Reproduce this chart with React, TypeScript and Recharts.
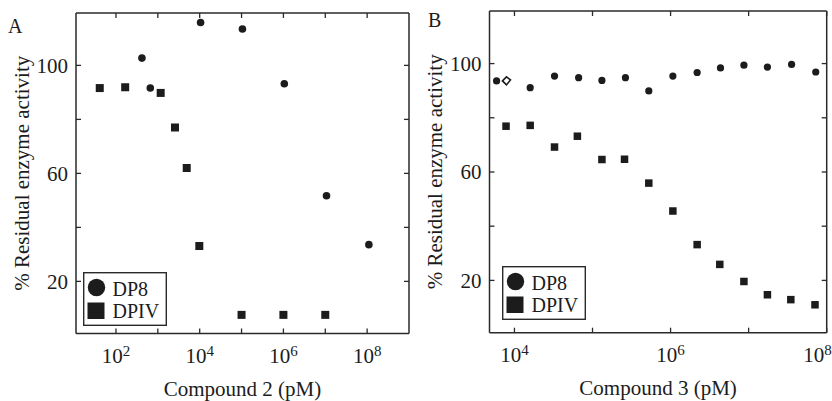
import React from 'react';
import { ScatterChart, Scatter, XAxis, YAxis, Legend } from 'recharts';

const FONT = '"Liberation Serif", "Times New Roman", serif';
const INK = '#1c1c1c';
const AXIS = '#2a2a2a';

// Panel A - compound 2 (pM) vs % residual activity
const dpivConcA = [41, 166, 1170, 2570, 4900, 9800, 1e5, 1e6, 1e7];
const dpivActA = [91.6, 91.9, 89.8, 77.0, 62.0, 33.1, 7.6, 7.6, 7.6];
const dp8ConcA = [417, 660, 1.05e4, 1.05e5, 1.05e6, 1.07e7, 1.1e8];
const dp8ActA = [102.7, 91.6, 115.9, 113.5, 93.2, 51.7, 33.6];

// Panel B - compound 3 (pM)
const dp8ConcB = [5900, 15900, 32600, 66400, 1.32e5, 2.64e5, 5.26e5, 1.07e6, 2.19e6, 4.36e6, 8.7e6, 1.74e7, 3.55e7, 7.24e7];
const dp8ActB = [93.6, 91.1, 95.4, 94.8, 93.8, 94.8, 89.9, 95.4, 96.7, 98.4, 99.4, 98.7, 99.7, 96.9];
const dp8OpenConcB = [7900];
const dp8OpenActB = [93.6];
const dpivConcB = [7800, 15900, 32600, 64000, 1.32e5, 2.57e5, 5.26e5, 1.07e6, 2.19e6, 4.27e6, 8.7e6, 1.74e7, 3.47e7, 7.08e7];
const dpivActB = [76.9, 77.2, 69.2, 73.2, 64.6, 64.7, 55.9, 45.6, 33.2, 25.9, 19.6, 14.7, 12.9, 11.0];

// axes
const xTicksA = [1e2, 1e3, 1e4, 1e5, 1e6, 1e7, 1e8];
const xTicksB = [1e4, 1e5, 1e6, 1e7, 1e8];
const yTicks = [20, 40, 60, 80, 100];
const yLabelled = [20, 60, 100];
const legendNames = ['DP8', 'DPIV'];

const pts = (xs: number[], ys: number[]) => xs.map((x, i) => ({ x, y: ys[i] }));

const square = (size: number) => (p: any) => (
  <rect x={p.cx - size / 2} y={p.cy - size / 2} width={size} height={size} fill={INK} />
);
const dot = (r: number) => (p: any) => <circle cx={p.cx} cy={p.cy} r={r} fill={INK} />;
const openDot = (p: any) => (
  <path
    d={`M${p.cx - 4},${p.cy} L${p.cx},${p.cy - 4} L${p.cx + 4},${p.cy - 1} L${p.cx},${p.cy + 4} Z`}
    fill="#fff"
    stroke={INK}
    strokeWidth={1.6}
  />
);
const none = () => <g />;

const BottomTick = (props: any) => {
  const { x, y, payload, lastAnchorEnd, lastValue } = props;
  const exp = Math.round(Math.log10(payload.value));
  const isLast = lastAnchorEnd && payload.value === lastValue;
  return (
    <g>
      <line x1={x} x2={x} y1={y} y2={y - 5} stroke={AXIS} strokeWidth={1.3} />
      {exp % 2 === 0 && (
        <text
          x={isLast ? x + 5 : x}
          y={y + 29}
          textAnchor={isLast ? 'end' : 'middle'}
          fontFamily={FONT}
          fontSize={21}
          fill={INK}
        >
          10
          <tspan dy={-7} fontSize={15}>{exp}</tspan>
        </text>
      )}
    </g>
  );
};

const TopTick = (props: any) => (
  <line x1={props.x} x2={props.x} y1={props.y} y2={props.y + 5} stroke={AXIS} strokeWidth={1.3} />
);

const LeftTick = (props: any) => {
  const { x, y, payload } = props;
  return (
    <g>
      <line x1={x} x2={x + 5} y1={y} y2={y} stroke={AXIS} strokeWidth={1.3} />
      {yLabelled.includes(payload.value) && (
        <text x={x - 8} y={y} dy="0.34em" textAnchor="end" fontFamily={FONT} fontSize={21} fill={INK}>
          {payload.value}
        </text>
      )}
    </g>
  );
};

const RightTick = (props: any) => (
  <line x1={props.x} x2={props.x - 5} y1={props.y} y2={props.y} stroke={AXIS} strokeWidth={1.3} />
);

const YTitle = (props: any) => {
  const vb = props.viewBox;
  const x = vb.x + vb.width - 54;
  const y = vb.y + vb.height / 2;
  return (
    <text
      x={x}
      y={y}
      transform={`rotate(-90, ${x}, ${y})`}
      textAnchor="middle"
      dominantBaseline="central"
      fontFamily={FONT}
      fontSize={21}
      fill={INK}
    >
      % Residual enzyme activity
    </text>
  );
};

const xTitle = (text: string) => (props: any) => {
  const vb = props.viewBox;
  return (
    <text x={vb.x + vb.width / 2} y={vb.y + 62} textAnchor="middle" fontFamily={FONT} fontSize={21} fill={INK}>
      {text}
    </text>
  );
};

const LegendBox = () => (
  <svg width={84} height={54} style={{ display: 'block' }}>
    <rect x={0.7} y={0.7} width={82.6} height={52.6} fill="#fff" stroke={AXIS} strokeWidth={1.4} />
    <circle cx={13.5} cy={15.5} r={8.7} fill={INK} />
    <rect x={4.5} y={30.5} width={17} height={16.5} fill={INK} />
    <text x={29.5} y={23.6} fontFamily={FONT} fontSize={20} fill={INK}>{legendNames[0]}</text>
    <text x={29.5} y={46.4} fontFamily={FONT} fontSize={20} fill={INK}>{legendNames[1]}</text>
  </svg>
);

type PanelProps = {
  left: number;
  plot: { top: number; right: number; bottom: number; left: number };
  xDomain: [number, number];
  xTicks: number[];
  lastAnchorEnd?: boolean;
  title: string;
  legendPos: { left: number; top: number };
  children: React.ReactNode;
  hidden: { x: number; y: number }[];
};

function Panel({ left, plot, xDomain, xTicks, lastAnchorEnd, title, legendPos, children, hidden }: PanelProps) {
  // axes are 1px thick so that recharts renders them; margins compensate
  const margin = { top: plot.top - 1, right: plot.right - 1, bottom: plot.bottom - 1, left: plot.left - 1 };
  return (
    <div style={{ position: 'absolute', left, top: 0, width: 416, height: 401 }}>
      <ScatterChart width={416} height={401} margin={margin}>
        <XAxis
          xAxisId="b"
          type="number"
          dataKey="x"
          scale="log"
          domain={xDomain}
          allowDataOverflow
          ticks={xTicks}
          interval={0}
          height={1}
          tickSize={0}
          tickMargin={0}
          tickLine={false}
          axisLine={{ stroke: AXIS, strokeWidth: 1.5 }}
          tick={<BottomTick lastAnchorEnd={lastAnchorEnd} lastValue={xTicks[xTicks.length - 1]} />}
          label={xTitle(title)}
        />
        <XAxis
          xAxisId="t"
          orientation="top"
          type="number"
          dataKey="x"
          scale="log"
          domain={xDomain}
          allowDataOverflow
          ticks={xTicks}
          interval={0}
          height={1}
          tickSize={0}
          tickMargin={0}
          tickLine={false}
          axisLine={{ stroke: AXIS, strokeWidth: 1.5 }}
          tick={<TopTick />}
        />
        <YAxis
          yAxisId="l"
          type="number"
          dataKey="y"
          domain={[0.7, 119.4]}
          allowDataOverflow
          ticks={yTicks}
          interval={0}
          width={1}
          tickSize={0}
          tickMargin={0}
          tickLine={false}
          axisLine={{ stroke: AXIS, strokeWidth: 1.5 }}
          tick={<LeftTick />}
          label={YTitle}
        />
        <YAxis
          yAxisId="r"
          orientation="right"
          type="number"
          dataKey="y"
          domain={[0.7, 119.4]}
          allowDataOverflow
          ticks={yTicks}
          interval={0}
          width={1}
          tickSize={0}
          tickMargin={0}
          tickLine={false}
          axisLine={{ stroke: AXIS, strokeWidth: 1.5 }}
          tick={<RightTick />}
        />
        <Scatter
          xAxisId="t"
          yAxisId="r"
          data={hidden}
          shape={none}
          legendType="none"
          isAnimationActive={false}
        />
        {children}
        <Legend
          layout="horizontal"
          verticalAlign="middle"
          align="center"
          content={<LegendBox />}
          wrapperStyle={{ left: legendPos.left, top: legendPos.top, width: 84, height: 54 }}
        />
      </ScatterChart>
    </div>
  );
}

export default function App() {
  const labelStyle: React.CSSProperties = {
    position: 'absolute',
    fontFamily: FONT,
    fontSize: 20,
    lineHeight: '20px',
    color: INK,
  };
  return (
    <div style={{ position: 'absolute', left: 0, top: 0, width: 832, height: 401, background: '#fff' }}>
      <Panel
        left={0}
        plot={{ top: 13, right: 7, bottom: 67.5, left: 76 }}
        xDomain={[11.1, 1e9]}
        xTicks={xTicksA}
        title="Compound 2 (pM)"
        legendPos={{ left: 83, top: 272 }}
        hidden={pts(dpivConcA, dpivActA)}
      >
        <Scatter
          name="DPIV"
          xAxisId="b"
          yAxisId="l"
          data={pts(dpivConcA, dpivActA)}
          shape={square(8)}
          isAnimationActive={false}
        />
        <Scatter
          name="DP8"
          xAxisId="b"
          yAxisId="l"
          data={pts(dp8ConcA, dp8ActA)}
          shape={dot(3.8)}
          isAnimationActive={false}
        />
      </Panel>
      <Panel
        left={416}
        plot={{ top: 11, right: 5.3, bottom: 68.3, left: 73.5 }}
        xDomain={[4790, 1e8]}
        xTicks={xTicksB}
        lastAnchorEnd
        title="Compound 3 (pM)"
        legendPos={{ left: 86, top: 266 }}
        hidden={pts(dpivConcB, dpivActB)}
      >
        <Scatter
          name="DPIV"
          xAxisId="b"
          yAxisId="l"
          data={pts(dpivConcB, dpivActB)}
          shape={square(7.5)}
          isAnimationActive={false}
        />
        <Scatter
          name="DP8"
          xAxisId="b"
          yAxisId="l"
          data={pts(dp8ConcB, dp8ActB)}
          shape={dot(3.6)}
          isAnimationActive={false}
        />
        <Scatter
          name="DP8 open"
          xAxisId="b"
          yAxisId="l"
          data={pts(dp8OpenConcB, dp8OpenActB)}
          shape={openDot}
          legendType="none"
          isAnimationActive={false}
        />
      </Panel>
      <div style={{ ...labelStyle, left: 8, top: 16 }}>A</div>
      <div style={{ ...labelStyle, left: 428, top: 10 }}>B</div>
    </div>
  );
}
